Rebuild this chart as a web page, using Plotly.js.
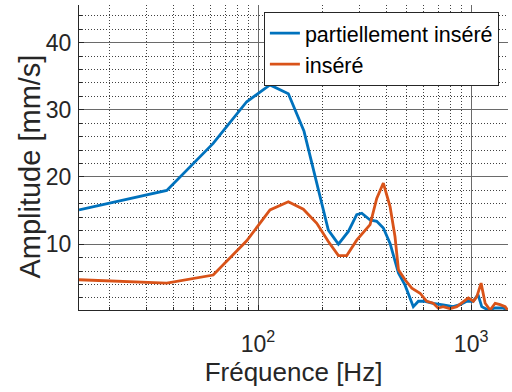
<!DOCTYPE html>
<html>
<head>
<meta charset="utf-8">
<script src="https://cdn.plot.ly/plotly-3.0.1.min.js"></script>
<style>html,body{margin:0;padding:0;background:#fff;}#chart{width:512px;height:392px;}</style>
</head>
<body>
<div id="chart"></div>
<script>
// Data
const seriesNames = ["partiellement inséré", "inséré"];

const freqBlue = [14.45, 37.3, 61.6, 88.5, 113.8, 138.8, 164.4, 213.8, 238.4, 265.5,
  290.5, 306.8, 335.7, 360.7, 387.4, 416.6, 456, 489.8, 535.6, 565.5,
  608.7, 663.5, 739, 822.6, 887.5, 954, 1021, 1078, 1122, 1202, 1297, 1413, 1476];
const ampBlue = [15.1, 18.0, 25.0, 31.2, 33.7, 32.4, 26.8, 12.1, 10.0, 11.9,
  14.4, 14.6, 13.6, 13.4, 12.4, 10.1, 5.7, 3.9, 0.7, 1.5,
  1.5, 1.2, 0.97, 0.7, 1.0, 1.5, 1.5, 2.5, 0.7, 0.2, 0.5, 0.5, 0.2];

const freqOrange = [14.45, 37.3, 61.6, 88.5, 113.8, 138.8, 163.2, 188.7, 213.8, 238.4,
  260.9, 290.5, 335.7, 360.7, 387.4, 416.6, 439.5, 456, 489.8, 526.8,
  576.2, 619.4, 664.5, 700, 739, 796, 857, 920, 971, 1025,
  1064, 1114, 1164, 1228, 1297, 1368, 1445, 1481];
const ampOrange = [4.7, 4.2, 5.4, 10.5, 15.1, 16.3, 15.2, 13.1, 10.4, 8.3,
  8.3, 10.6, 12.9, 16.8, 19.1, 15.6, 11.1, 6.2, 4.7, 3.45,
  2.7, 1.5, 1.2, 0.5, 0.7, 0.4, 0.7, 1.5, 2.0, 1.5,
  2.2, 4.2, 1.2, 0.2, 1.2, 1.0, 0.7, 0.2];

const xTickVals = [100, 1000];
const xTickText = ["10<sup>2</sup>", "10<sup>3</sup>"];
const xMinorVals = [20, 30, 40, 50, 60, 70, 80, 90, 200, 300, 400, 500, 600, 700, 800, 900];
const yTickVals = [10, 20, 30, 40];
const xTitle = "Fréquence [Hz]";
const yTitle = "Amplitude [mm/s]";

const FONT = "Liberation Sans, Arial, Helvetica, sans-serif";
const TXT = "#262626";

const traces = [
  {x: freqBlue, y: ampBlue, name: seriesNames[0], type: "scatter", mode: "lines",
   line: {color: "#0072BD", width: 2.8}},
  {x: freqOrange, y: ampOrange, name: seriesNames[1], type: "scatter", mode: "lines",
   line: {color: "#D95319", width: 2.8}}
];

const layout = {
  width: 512, height: 392,
  margin: {l: 79, r: 4, t: 5, b: 82, pad: 0},
  paper_bgcolor: "#fff", plot_bgcolor: "#fff",
  font: {family: FONT, color: TXT, size: 22},
  showlegend: true,
  legend: {
    x: 0.431, y: 0.978, xanchor: "left", yanchor: "top",
    bgcolor: "#fff", bordercolor: "#262626", borderwidth: 1,
    font: {family: FONT, size: 21.5, color: "#000"},
    tracegroupgap: 0, itemwidth: 30
  },
  xaxis: {
    type: "log",
    range: [Math.log10(14.45), Math.log10(1490)],
    tickvals: xTickVals, ticktext: xTickText,
    tickfont: {family: FONT, size: 23, color: TXT},
    ticks: "inside", ticklen: 5, tickcolor: "#262626",
    showline: true, linecolor: "#262626", linewidth: 1, mirror: false,
    showgrid: true, gridcolor: "#6a6a6a", gridwidth: 1,
    zeroline: false,
    ticklabelstandoff: 13,
    minor: {tickvals: xMinorVals,
            showgrid: true, gridcolor: "#404040", griddash: "1px,2px", gridwidth: 1,
            ticks: "inside", ticklen: 3, tickcolor: "#262626"},
    title: {text: xTitle, font: {family: FONT, size: 26, color: TXT}, standoff: 5}
  },
  yaxis: {
    range: [0.2, 45.6],
    tickvals: yTickVals,
    tickfont: {family: FONT, size: 23, color: TXT},
    ticks: "inside", ticklen: 5, tickcolor: "#262626",
    showline: true, linecolor: "#262626", linewidth: 1, mirror: false,
    showgrid: true, gridcolor: "#6a6a6a", gridwidth: 1,
    zeroline: false,
    ticklabelstandoff: 2,
    minor: {dtick: 2, showgrid: true, gridcolor: "#404040", griddash: "1px,2px", gridwidth: 1,
            ticks: "inside", ticklen: 3, tickcolor: "#262626"}
  },
  annotations: [{
    text: yTitle, textangle: -90, showarrow: false,
    xref: "paper", yref: "paper", x: -0.114, y: 0.4705,
    xanchor: "center", yanchor: "middle",
    font: {family: FONT, size: 29, color: TXT}
  }]
};

Plotly.newPlot("chart", traces, layout, {displayModeBar: false, staticPlot: true});
</script>
</body>
</html>
